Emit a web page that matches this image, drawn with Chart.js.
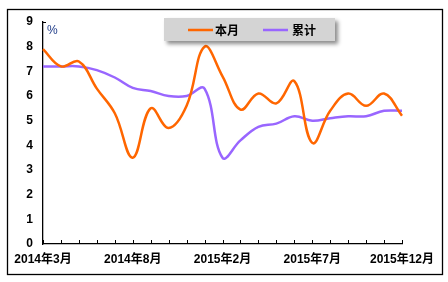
<!DOCTYPE html>
<html>
<head>
<meta charset="utf-8">
<script src="https://cdn.jsdelivr.net/npm/chart.js@4"></script>
<style>
  html, body { margin: 0; padding: 0; background: #fff; }
  #wrap { width: 448px; height: 282px; position: relative; }
</style>
</head>
<body>
<div id="wrap"><canvas id="myChart"></canvas></div>
<script>
// months (Jan 2015 is merged into Feb, so it is missing)
const months = ['2014年3月','2014年4月','2014年5月','2014年6月','2014年7月','2014年8月','2014年9月','2014年10月','2014年11月','2014年12月',
  '2015年2月','2015年3月','2015年4月','2015年5月','2015年6月','2015年7月','2015年8月','2015年9月','2015年10月','2015年11月','2015年12月'];
const monthly = [7.9, 7.2, 7.4, 6.3, 5.3, 3.5, 5.5, 4.7, 5.6, 8.0, 6.8, 5.45, 6.1, 5.7, 6.6, 4.1, 5.4, 6.1, 5.6, 6.1, 5.2];
const cumulative = [7.2, 7.2, 7.2, 7.05, 6.75, 6.33, 6.2, 6.0, 6.0, 6.3, 3.5, 4.2, 4.75, 4.88, 5.18, 5.0, 5.1, 5.18, 5.18, 5.4, 5.4];
const seriesNames = ['本月', '累计'];
const seriesColors = ['#FF6600', '#9966FF'];
const yTicks = [0, 1, 2, 3, 4, 5, 6, 7, 8, 9];

const ctx = document.getElementById('myChart');
const tickFont = { family: 'Arial, "Liberation Sans", "Noto Sans CJK SC"', size: 12, weight: 'bold' };

// frame, inner tick marks, "%" and the grey legend box
const decorations = {
  id: 'decorations',
  beforeDraw(chart) {
    const c = chart.ctx;
    c.save();
    c.fillStyle = '#fff';
    c.fillRect(0, 0, chart.width, chart.height);
    c.strokeStyle = '#000';
    c.lineWidth = 1.3;
    c.strokeRect(7.5, 9.5, 435, 265);
    c.restore();
  },
  afterDraw(chart) {
    const c = chart.ctx;
    const x = chart.scales.x, y = chart.scales.y;
    c.save();
    c.strokeStyle = '#000';
    c.lineWidth = 1;
    c.beginPath();
    for (let i = 0; i < months.length; i++) {
      const px = Math.round(x.getPixelForValue(i)) + 0.5;
      c.moveTo(px, y.bottom);
      c.lineTo(px, y.bottom - 4);
    }
    const top = Math.round(y.getPixelForValue(9)) + 0.5;
    c.moveTo(x.left, top);
    c.lineTo(x.left + 3, top);
    c.stroke();

    c.fillStyle = '#1F3C88';
    c.font = '12px Arial, "Liberation Sans"';
    c.textBaseline = 'middle';
    c.fillText('%', x.left + 4, 31);

    // legend box
    c.save();
    c.shadowColor = 'rgba(0,0,0,0.45)';
    c.shadowBlur = 4;
    c.shadowOffsetX = 3;
    c.shadowOffsetY = 3;
    c.fillStyle = '#D4D4D4';
    c.fillRect(164, 18, 171, 23);
    c.restore();

    const items = [[188, 215], [263, 292]];
    c.font = 'bold 12px "Noto Sans CJK SC", Arial';
    c.textBaseline = 'middle';
    items.forEach((it, i) => {
      c.strokeStyle = seriesColors[i];
      c.lineWidth = 2.5;
      c.beginPath();
      c.moveTo(it[0], 30);
      c.lineTo(it[0] + 25, 30);
      c.stroke();
      c.fillStyle = '#000';
      c.fillText(seriesNames[i], it[1], 30);
    });
    c.restore();
  }
};

let myChart = new Chart(ctx, {
  type: 'line',
  data: {
    labels: months,
    datasets: [
      { label: seriesNames[0], data: monthly, borderColor: seriesColors[0], borderWidth: 2.5, tension: 0.4, pointRadius: 0, fill: false },
      { label: seriesNames[1], data: cumulative, borderColor: seriesColors[1], borderWidth: 2.5, tension: 0.4, pointRadius: 0, fill: false }
    ]
  },
  options: {
    responsive: true,
    maintainAspectRatio: false,
    animation: false,
    layout: { padding: { left: 0, right: 46, top: 22, bottom: 0 } },
    scales: {
      x: {
        offset: false,
        grid: { display: false, drawTicks: false },
        border: { color: '#000', width: 1.3 },
        afterFit: s => { s.height = 38; },
        ticks: {
          autoSkip: false,
          maxRotation: 0,
          padding: 8,
          color: '#000',
          font: tickFont,
          callback: (v, i) => (i % 5 === 0 ? months[i] : '')
        }
      },
      y: {
        min: 0,
        max: 9,
        afterFit: s => { s.width = 43; },
        afterBuildTicks: s => { s.ticks = yTicks.map(v => ({ value: v })); },
        grid: { display: false, drawTicks: false },
        border: { color: '#000', width: 1.3 },
        ticks: { padding: 10, color: '#000', font: tickFont }
      }
    },
    plugins: {
      legend: { display: false },
      tooltip: { enabled: false }
    }
  },
  plugins: [decorations]
});
</script>
</body>
</html>
